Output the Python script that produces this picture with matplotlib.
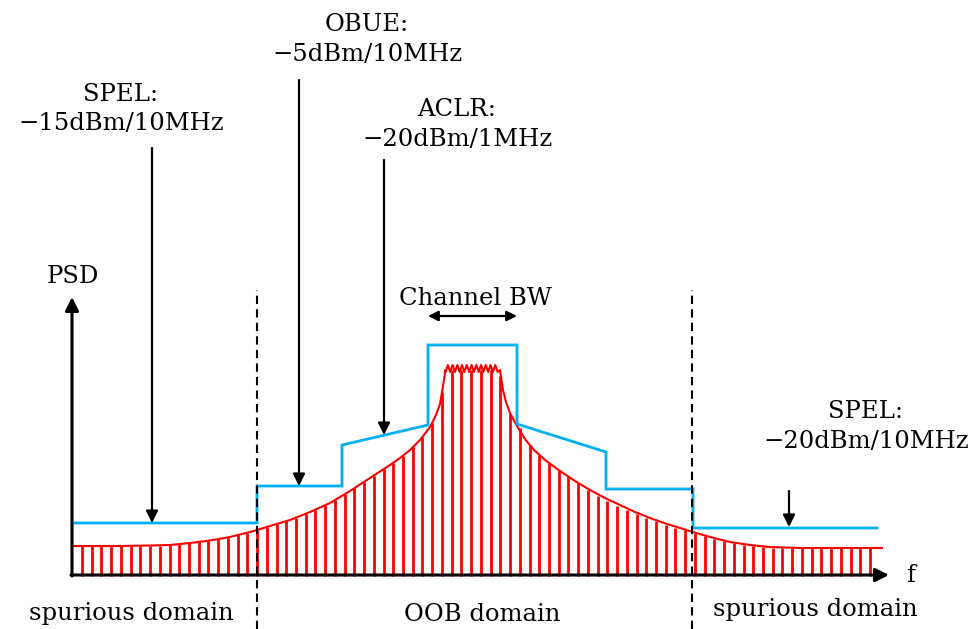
import numpy as np
import matplotlib
matplotlib.use("Agg")
import matplotlib.pyplot as plt

# ---------------- data (x: frequency position, level: PSD height above axis) -------------
# spectrum emission mask (blue), breakpoints
mask_x = [72, 257, 257, 342, 342, 428, 428, 517, 517, 606, 606, 693, 693, 877]
mask_level = [53, 53, 90, 90, 131, 151, 231, 231, 152, 124, 87, 87, 48, 48]

# PSD envelope (red) – left flank, flat top (ripple), right flank
env_left_x = [72, 120, 150, 170, 190, 210, 230, 250, 257, 270, 290, 310, 330, 350,
              370, 390, 400, 410, 420, 430, 436, 440, 443, 445.5]
env_left_level = [30, 30, 30.5, 31, 33, 35.5, 39, 44, 46, 50, 56, 64, 73, 85,
                  98, 111, 118, 126, 136, 149, 161, 172, 190, 206]
ripple_level = [204, 211, 204, 211, 204, 211, 204, 211, 204, 211, 204, 211,
                204, 211, 204, 211, 204, 211, 204, 211, 204, 211, 204, 206]
env_right_x = [500, 501.5, 503, 506, 510, 517, 525, 533, 545, 560, 575, 590, 605,
               620, 635, 650, 667, 680, 693, 710, 730, 750, 770, 800, 882]
env_right_level = [206, 196, 186, 174, 163, 150, 137, 127, 116, 105, 95, 86, 78,
                   71, 64, 58, 52, 48, 44, 39, 34, 31, 29, 28, 28]

# PSD stems (one per frequency bin)
stem_level = [30, 30, 30, 30, 30, 30, 30, 30, 30, 31, 32, 33, 34, 35.5, 37, 39, 41, 43,
              46, 49, 52, 55, 58, 62, 66, 71, 76, 82, 88, 94, 100, 107, 113, 120, 129,
              139, 153, 184, 206, 206, 206, 206, 206, 200, 162, 148, 131, 121, 113, 106,
              100, 93, 86, 80, 75, 70, 66, 62, 58, 55, 51, 48, 46, 43, 40, 37, 35, 33,
              31, 30, 29, 28, 28, 28, 28, 28, 28, 28, 28, 28, 28, 28]

# domain boundaries
boundary_x = [257, 692]

# mask annotations: (title, value, text x, arrow x, arrow top, arrow tip, title baseline, value baseline)
labels_mask = [
    ("SPEL:", "\u221215dBm/10MHz", 121, 152, 428, 53, 475, 446),
    ("OBUE:", "\u22125dBm/10MHz", 367, 299, 496, 90, 545, 515),
    ("ACLR:", "\u221220dBm/1MHz", 457, 384, 416, 141, 460, 430),
    ("SPEL:", "\u221220dBm/10MHz", 866, 789, 85, 49, 158, 128),
]
domain_labels = ["spurious domain", "OOB domain", "spurious domain"]

# ---------------- figure ----------------
plt.rcParams['font.family'] = ['DejaVu Serif']
fig = plt.figure(figsize=(9.74, 6.29), dpi=100)
ax = fig.add_axes([0, 0, 1, 1])
ax.set_xlim(0, 974)
ax.set_ylim(-53, 576)
ax.axis('off')

RED = '#ff0000'
BLUE = '#00b0f0'
FS = 17.5

# stems
stem_x = np.linspace(82, 870, len(stem_level))
ax.vlines(stem_x, 0, stem_level, color=RED, lw=2.0, zorder=2)

# envelope
ripple_x = np.linspace(445.5, 500, len(ripple_level))
env_x = list(env_left_x) + list(ripple_x) + list(env_right_x)
env_y = list(env_left_level) + list(ripple_level) + list(env_right_level)
ax.plot(env_x, env_y, color=RED, lw=1.5, zorder=3)

# mask
ax.plot(mask_x, mask_level, color=BLUE, lw=2.0, zorder=4, solid_joinstyle='miter')

# boundaries
for bx in boundary_x:
    ax.plot([bx, bx], [-53, 286], color='black', lw=1.5, ls=(0, (4, 2.5)), zorder=5)

# axes arrows
arrow_kw = dict(arrowstyle='-|>', color='black', lw=2.2, mutation_scale=20,
                shrinkA=0, shrinkB=0)
ax.annotate('', xy=(889, 1), xytext=(71, 1), arrowprops=arrow_kw, zorder=6)
ax.annotate('', xy=(72, 279), xytext=(72, 0), arrowprops=arrow_kw, zorder=6)
ax.text(72.5, 293, "PSD", ha='center', va='baseline', fontsize=FS)
ax.text(911, -6, "f", ha='center', va='baseline', fontsize=FS)

# mask annotations
ann_kw = dict(arrowstyle='-|>', color='black', lw=1.6, mutation_scale=18,
              shrinkA=0, shrinkB=0)
for title, val, tx, axx, top, tip, ty1, ty2 in labels_mask:
    ax.text(tx, ty1, title, ha='center', va='baseline', fontsize=FS)
    ax.text(tx, ty2, val, ha='center', va='baseline', fontsize=FS)
    ax.annotate('', xy=(axx, tip), xytext=(axx, top), arrowprops=ann_kw, zorder=6)

# channel bandwidth
ax.text(475, 271, "Channel BW", ha='center', va='baseline', fontsize=FS)
ax.annotate('', xy=(428, 260), xytext=(517, 260),
            arrowprops=dict(arrowstyle='<|-|>', color='black', lw=1.6,
                            mutation_scale=15, shrinkA=0, shrinkB=0))

# domain labels
for txt, x, y in zip(domain_labels, [131, 482, 815], [-44, -45, -40]):
    ax.text(x, y, txt, ha='center', va='baseline', fontsize=FS)

fig.savefig("out.png", dpi=100)
